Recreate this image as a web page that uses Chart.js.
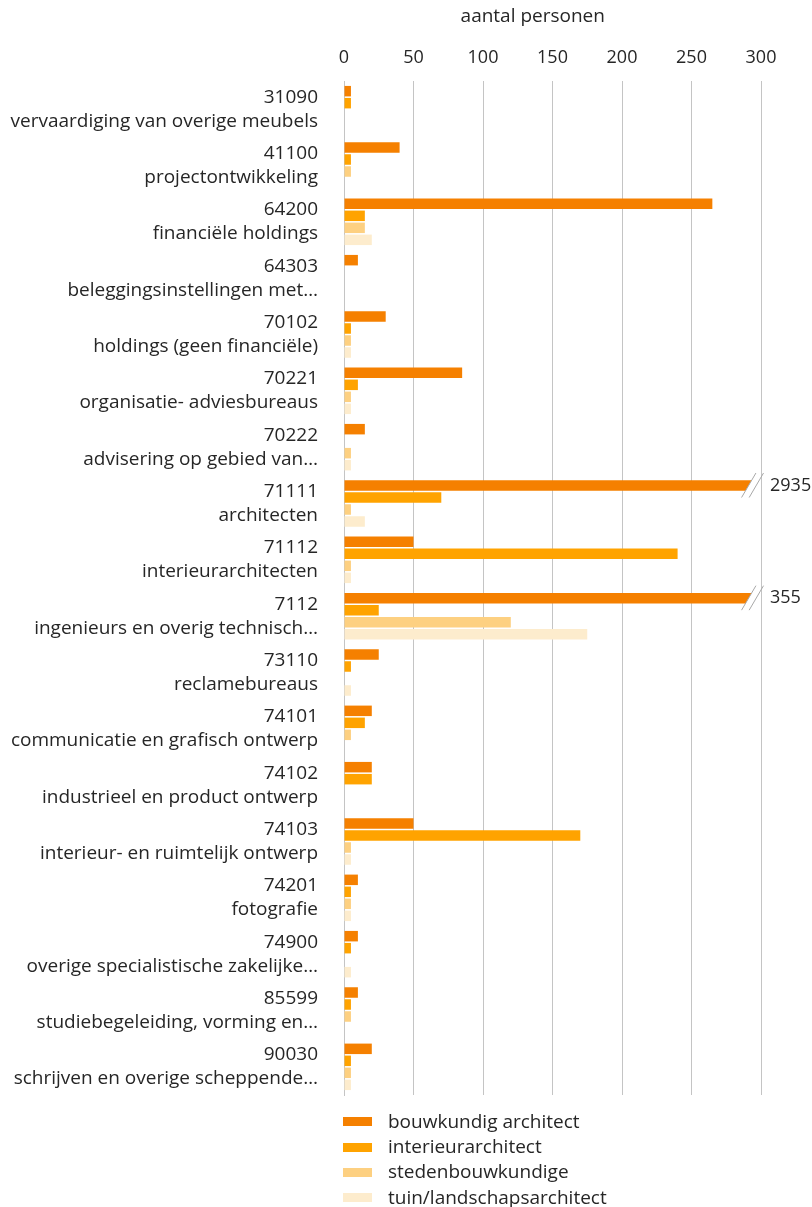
<!DOCTYPE html>
<html lang="nl">
<head>
<meta charset="utf-8">
<title>aantal personen</title>
<script src="https://cdn.jsdelivr.net/npm/chart.js"></script>
<style>
    body { margin: 0; background: #fff; overflow: hidden; }
    #wrap { position: relative; width: 812px; height: 1207px; }
    #legend { position: absolute; left: 343px; top: 1109px; font-family: "Open Sans", sans-serif; font-size: 19px; color: #262626; }
    #legend div { height: 25.2px; line-height: 25.2px; white-space: nowrap; }
    #legend span.box { display: inline-block; width: 29px; height: 9px; margin-right: 16px; vertical-align: middle; position: relative; top: -1px; }
</style>
</head>
<body>
<div id="wrap">
    <canvas id="chart" width="812" height="1207"></canvas>
    <div id="legend"></div>
</div>
<script>
// categorieën (SBI-code + omschrijving)
const codes = [
    '31090', '41100', '64200', '64303', '70102', '70221', '70222', '71111', '71112',
    '7112', '73110', '74101', '74102', '74103', '74201', '74900', '85599', '90030'
];
const names = [
    'vervaardiging van overige meubels', 'projectontwikkeling', 'financiële holdings',
    'beleggingsinstellingen met…', 'holdings (geen financiële)', 'organisatie- adviesbureaus',
    'advisering op gebied van…', 'architecten', 'interieurarchitecten',
    'ingenieurs en overig technisch…', 'reclamebureaus', 'communicatie en grafisch ontwerp',
    'industrieel en product ontwerp', 'interieur- en ruimtelijk ontwerp', 'fotografie',
    'overige specialistische zakelijke…', 'studiebegeleiding, vorming en…', 'schrijven en overige scheppende…'
];

const seriesNames = ['bouwkundig architect', 'interieurarchitect', 'stedenbouwkundige', 'tuin/landschapsarchitect'];

// aantal personen per beroep
const bouwkundig = [5, 40, 265, 10, 30, 85, 15, 2935, 50, 355, 25, 20, 20, 50, 10, 10, 10, 20];
const interieur = [5, 5, 15, null, 5, 10, null, 70, 240, 25, 5, 15, 20, 170, 5, 5, 5, 5];
const steden = [null, 5, 15, null, 5, 5, 5, 5, 5, 120, null, 5, null, 5, 5, null, 5, 5];
const tuin = [null, null, 20, null, 5, 5, 5, 15, 5, 175, 5, null, null, 5, 5, 5, null, 5];

const xTicks = [0, 50, 100, 150, 200, 250, 300];

const colors = ['#f58000', '#ffa300', '#fdd081', '#fdeccd'];
const fontFamily = '"Open Sans", sans-serif';
const textColor = '#262626';
const gridColor = '#c4c4c4';

const axisMax = 300;
const barCap = 294; // waarden boven de as worden afgekapt getekend

// lange balken afbreken met twee schuine streepjes + waarde erachter
const brokenBars = {
    id: 'brokenBars',
    afterDatasetsDraw(chart) {
        const ctx = chart.ctx;
        const xs = chart.scales.x;
        const meta = chart.getDatasetMeta(0);
        const px = xs.getPixelForValue(axisMax);
        const slope = 0.586;
        bouwkundig.forEach((v, i) => {
            if (v == null || v <= axisMax) return;
            const bar = meta.data[i];
            const yc = bar.y;
            const hh = bar.height / 2 + 1;
            const x1 = px - 12.4;
            const x2 = px - 4.8;
            const at = (xc, y) => xc + (yc - y) * slope;

            ctx.save();
            ctx.fillStyle = '#fff';
            ctx.beginPath();
            ctx.moveTo(at(x1, yc - hh), yc - hh);
            ctx.lineTo(at(x2, yc - hh), yc - hh);
            ctx.lineTo(at(x2, yc + hh), yc + hh);
            ctx.lineTo(at(x1, yc + hh), yc + hh);
            ctx.closePath();
            ctx.fill();

            ctx.strokeStyle = '#a8a8a8';
            ctx.lineWidth = 1;
            [x1, x2].forEach(xc => {
                ctx.beginPath();
                ctx.moveTo(at(xc, yc + 12), yc + 12);
                ctx.lineTo(at(xc, yc - 12.5), yc - 12.5);
                ctx.stroke();
            });

            ctx.fillStyle = textColor;
            ctx.font = '18px ' + fontFamily;
            ctx.textAlign = 'left';
            ctx.textBaseline = 'middle';
            ctx.fillText(String(v), px + 9, yc);
            ctx.restore();
        });
    }
};

const series = [bouwkundig, interieur, steden, tuin];

const chart = new Chart(document.getElementById('chart'), {
    type: 'bar',
    data: {
        labels: codes.map((c, i) => [c, names[i]]),
        datasets: series.map((s, k) => ({
            label: seriesNames[k],
            data: s.map(v => (v == null ? null : Math.min(v, barCap))),
            backgroundColor: colors[k],
            borderWidth: 0,
            categoryPercentage: 0.852,
            barPercentage: 0.875
        }))
    },
    options: {
        indexAxis: 'y',
        responsive: false,
        animation: false,
        devicePixelRatio: 1,
        layout: { padding: { left: 0, right: 51, top: 0, bottom: 112 } },
        plugins: {
            legend: { display: false },
            tooltip: { enabled: false }
        },
        scales: {
            x: {
                position: 'top',
                min: 0,
                max: axisMax,
                afterBuildTicks(scale) {
                    scale.ticks = xTicks.map(v => ({ value: v }));
                },
                afterFit(scale) { scale.height = 81; },
                grid: { color: gridColor, lineWidth: 1, drawTicks: false },
                border: { display: false },
                ticks: {
                    padding: 12,
                    color: textColor,
                    font: { family: fontFamily, size: 18 }
                },
                title: {
                    display: true,
                    text: 'aantal personen' + '\u00a0'.repeat(8),
                    color: textColor,
                    font: { family: fontFamily, size: 19 },
                    padding: { top: 5, bottom: 0 }
                }
            },
            y: {
                afterFit(scale) { scale.width = 344; },
                grid: { display: false },
                border: { display: true, color: gridColor, width: 1 },
                ticks: {
                    padding: 18,
                    color: textColor,
                    font: { family: fontFamily, size: 19, lineHeight: 1.263 }
                }
            }
        }
    },
    plugins: [brokenBars]
});

// legenda onder de grafiek, één item per regel
const legend = document.getElementById('legend');
chart.data.datasets.forEach(ds => {
    const row = document.createElement('div');
    const box = document.createElement('span');
    box.className = 'box';
    box.style.background = ds.backgroundColor;
    row.appendChild(box);
    row.appendChild(document.createTextNode(ds.label));
    legend.appendChild(row);
});
</script>
</body>
</html>
